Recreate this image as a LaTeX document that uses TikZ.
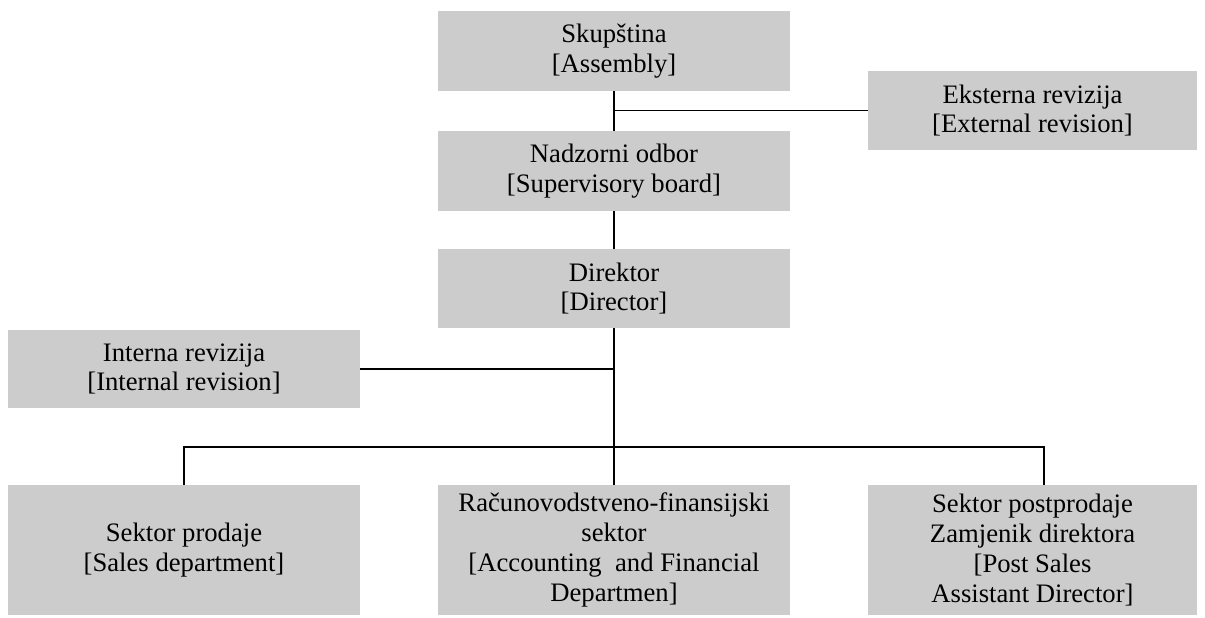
\documentclass[tikz,border=0pt]{standalone}
\usepackage{fontspec}
\setmainfont{Liberation Serif}
\definecolor{boxgray}{RGB}{204,204,204}
\begin{document}
\begin{tikzpicture}[x=0.75pt,y=-0.75pt,
  box/.style={rectangle,fill=boxgray,draw=none,inner sep=0pt,align=center,
    font=\fontsize{20pt}{22.3pt}\selectfont,minimum width=264pt},
  narrow/.style={minimum width=246.75pt},
  conn/.style={draw=black,line width=0.9pt}]
\useasboundingbox (0,0) rectangle (1205,617);
\node[box,minimum height=60pt] (sk) at (614,51) {Skupština\\{}[Assembly]};
\node[box,narrow,minimum height=59.25pt] (ek) at (1032.5,110.5) {Eksterna revizija\\{}[External revision]};
\node[box,minimum height=60pt] (nd) at (614,171) {Nadzorni odbor\\{}[Supervisory board]};
\node[box,minimum height=59.25pt] (dr) at (614,288.5) {Direktor\\{}[Director]};
\node[box,minimum height=58.5pt] (in) at (184,369) {Interna revizija\\{}[Internal revision]};
\node[box,minimum height=97.5pt] (sp) at (184,550) {Sektor prodaje\\{}[Sales department]};
\node[box,minimum height=97.5pt] (rf) at (614,550) {Računovodstveno-finansijski\\sektor\\{}[Accounting\ \ and Financial\\Departmen]};
\node[box,narrow,minimum height=97.5pt] (ps) at (1032.5,550) {Sektor postprodaje\\Zamjenik direktora\\{}[Post Sales\\Assistant Director]};
\coordinate (bus) at (614,447);
\coordinate (psdrop) at (1044,447);
\draw[conn] (sk.south) -- (nd.north);
\draw[conn] (sk.south |- ek.west) -- (ek.west);
\draw[conn] (nd.south) -- (dr.north);
\draw[conn] (dr.south) -- (bus) -- (rf.north);
\draw[conn] (in.east) -- (dr.south |- in.east);
\draw[conn] (sp.north) -- (sp.north |- bus) -- (psdrop) -- (psdrop |- ps.north);
\end{tikzpicture}
\end{document}
